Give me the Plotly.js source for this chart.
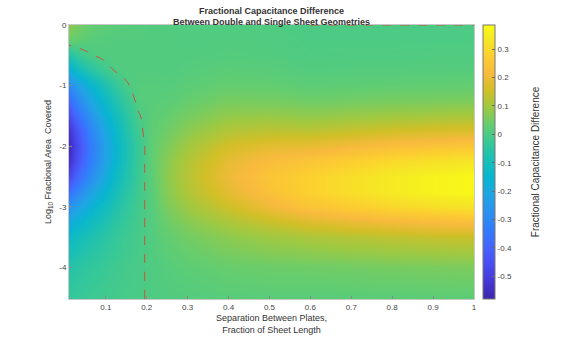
<!DOCTYPE html>
<html>
<head>
<meta charset="utf-8">
<script src="https://cdn.plot.ly/plotly-3.0.1.min.js"></script>
<style>
  html, body { margin: 0; padding: 0; background: #fff; }
  #chart { width: 562px; height: 340px; }
</style>
</head>
<body>
<div id="chart"></div>
<script>
// Grid: separation (fraction of sheet length) and log10 area covered
const separation = [0.01, 0.03, 0.06, 0.09, 0.12, 0.15, 0.18, 0.21, 0.25, 0.3, 0.4, 0.5, 0.6, 0.7, 0.8, 0.9, 1.0];
const logArea = [0, -0.25, -0.5, -0.75, -1, -1.25, -1.5, -1.75, -2, -2.25, -2.5, -2.75, -3, -3.25, -3.5, -4, -4.52];

// Fractional capacitance difference, one row per logArea value (top to bottom)
const capDiff = [
    [0.08, 0.055, 0.035, 0.025, 0.018, 0.014, 0.012, 0.01, 0.008, 0.006, 0.006, 0.004, 0.0, 0.0, 0.0, 0.0, 0.0],
    [0.035, 0.03, 0.016, 0.012, 0.01, 0.01, 0.01, 0.008, 0.008, 0.006, 0.008, 0.006, 0.002, 0.002, 0.002, 0.002, 0.002],
    [-0.07, -0.032, -0.003, 0.008, 0.01, 0.01, 0.01, 0.008, 0.008, 0.008, 0.012, 0.009, 0.004, 0.005, 0.005, 0.006, 0.006],
    [-0.17, -0.117, -0.063, -0.026, 0.0, 0.01, 0.01, 0.01, 0.008, 0.013, 0.02, 0.017, 0.01, 0.011, 0.012, 0.013, 0.014],
    [-0.3, -0.237, -0.162, -0.098, -0.045, -0.005, 0.015, 0.015, 0.013, 0.021, 0.034, 0.031, 0.023, 0.026, 0.028, 0.03, 0.031],
    [-0.38, -0.308, -0.22, -0.144, -0.082, -0.032, 0.012, 0.018, 0.02, 0.034, 0.054, 0.053, 0.045, 0.05, 0.054, 0.057, 0.06],
    [-0.46, -0.377, -0.278, -0.191, -0.117, -0.055, -0.004, 0.02, 0.032, 0.053, 0.084, 0.088, 0.081, 0.09, 0.098, 0.104, 0.108],
    [-0.53, -0.437, -0.326, -0.228, -0.143, -0.072, -0.012, 0.022, 0.045, 0.075, 0.12, 0.131, 0.13, 0.144, 0.158, 0.167, 0.173],
    [-0.56, -0.465, -0.35, -0.252, -0.16, -0.087, -0.025, 0.025, 0.06, 0.1, 0.16, 0.183, 0.191, 0.211, 0.231, 0.244, 0.254],
    [-0.54, -0.448, -0.338, -0.243, -0.154, -0.084, -0.024, 0.024, 0.071, 0.119, 0.19, 0.226, 0.249, 0.275, 0.301, 0.318, 0.331],
    [-0.47, -0.39, -0.294, -0.212, -0.134, -0.073, -0.02, 0.02, 0.075, 0.125, 0.2, 0.248, 0.284, 0.314, 0.343, 0.363, 0.377],
    [-0.37, -0.307, -0.231, -0.167, -0.105, -0.057, -0.016, 0.016, 0.07, 0.116, 0.186, 0.239, 0.284, 0.314, 0.343, 0.363, 0.377],
    [-0.27, -0.224, -0.169, -0.122, -0.077, -0.042, -0.012, 0.012, 0.057, 0.095, 0.152, 0.2, 0.244, 0.269, 0.294, 0.311, 0.323],
    [-0.19, -0.158, -0.119, -0.086, -0.054, -0.029, -0.009, 0.009, 0.041, 0.069, 0.11, 0.144, 0.174, 0.192, 0.21, 0.222, 0.231],
    [-0.13, -0.108, -0.081, -0.059, -0.037, -0.02, -0.007, 0.007, 0.029, 0.048, 0.076, 0.095, 0.11, 0.122, 0.133, 0.141, 0.146],
    [-0.065, -0.054, -0.041, -0.029, -0.019, -0.01, -0.004, 0.004, 0.014, 0.023, 0.036, 0.041, 0.044, 0.048, 0.053, 0.056, 0.058],
    [-0.035, -0.029, -0.022, -0.016, -0.01, -0.005, -0.003, 0.003, 0.006, 0.01, 0.016, 0.017, 0.016, 0.018, 0.019, 0.02, 0.021]
];

// Tick labels
const xTickVals = [0.1, 0.2, 0.3, 0.4, 0.5, 0.6, 0.7, 0.8, 0.9, 1];
const xTickText = ['0.1', '0.2', '0.3', '0.4', '0.5', '0.6', '0.7', '0.8', '0.9', '1'];
const yTickVals = [0, -1, -2, -3, -4];
const yTickText = ['0', '-1', '-2', '-3', '-4'];
const cbTickVals = [0.3, 0.2, 0.1, 0, -0.1, -0.2, -0.3, -0.4, -0.5];
const cbTickText = ['0.3', '0.2', '0.1', '0', '-0.1', '-0.2', '-0.3', '-0.4', '-0.5'];

// MATLAB parula, sampled
const parula = [
    [0.000, 'rgb(62,38,168)'],
    [0.063, 'rgb(69,55,213)'],
    [0.127, 'rgb(72,77,240)'],
    [0.190, 'rgb(69,99,253)'],
    [0.254, 'rgb(50,124,252)'],
    [0.317, 'rgb(43,145,239)'],
    [0.381, 'rgb(32,165,227)'],
    [0.444, 'rgb(8,181,208)'],
    [0.508, 'rgb(25,191,182)'],
    [0.571, 'rgb(55,200,151)'],
    [0.635, 'rgb(100,205,111)'],
    [0.698, 'rgb(157,201,67)'],
    [0.762, 'rgb(209,191,39)'],
    [0.825, 'rgb(248,186,61)'],
    [0.889, 'rgb(252,207,48)'],
    [0.952, 'rgb(245,233,36)'],
    [1.000, 'rgb(249,251,21)']
];

// heatmap wants y ascending
const yAsc = logArea.slice().reverse();
const zAsc = capDiff.slice().reverse();

const fontFamily = 'Liberation Sans, Arial, sans-serif';

const heat = {
    type: 'heatmap',
    x: separation,
    y: yAsc,
    z: zAsc,
    zsmooth: 'best',
    colorscale: parula,
    zmin: -0.58,
    zmax: 0.385,
    hoverinfo: 'skip',
    colorbar: {
        x: 1.022,
        xanchor: 'left',
        xpad: 0,
        y: 0.5,
        yanchor: 'middle',
        ypad: 0,
        len: 1.0,
        lenmode: 'fraction',
        thickness: 12,
        outlinecolor: '#777',
        outlinewidth: 1,
        tickmode: 'array',
        tickvals: cbTickVals,
        ticktext: cbTickText,
        ticks: 'inside',
        ticklen: 3,
        tickcolor: '#666',
        tickfont: { family: fontFamily, size: 8, color: '#444' }
    }
};

// zero contour, dashed
const zeroLine = {
    type: 'contour',
    x: separation,
    y: yAsc,
    z: zAsc,
    showscale: false,
    hoverinfo: 'skip',
    contours: { start: 0, end: 0, size: 1, coloring: 'none' },
    line: { color: '#c8553d', dash: 'dash', width: 1, smoothing: 1.3 }
};

const layout = {
    width: 562,
    height: 340,
    margin: { l: 69, r: 88, t: 25, b: 41 },
    paper_bgcolor: '#fff',
    plot_bgcolor: '#fff',
    font: { family: fontFamily, size: 8, color: '#444' },
    title: {
        text: '<b>Fractional Capacitance Difference<br>Between Double and Single Sheet Geometries</b>',
        font: { family: fontFamily, size: 9, color: '#333' },
        x: 0.5,
        xref: 'paper',
        xanchor: 'center',
        y: 0.96,
        yref: 'container',
        yanchor: 'top'
    },
    xaxis: {
        range: [0.01, 1],
        tickmode: 'array',
        tickvals: xTickVals,
        ticktext: xTickText,
        ticks: 'inside',
        ticklen: 3,
        tickcolor: '#888',
        showgrid: false,
        zeroline: false,
        showline: true,
        mirror: true,
        linecolor: '#c8c8c8',
        linewidth: 1,
        tickfont: { size: 8, color: '#444' },
        title: {
            text: 'Separation Between Plates,<br>Fraction of Sheet Length',
            font: { size: 9, color: '#333' },
            standoff: 4
        }
    },
    yaxis: {
        range: [-4.52, 0],
        tickmode: 'array',
        tickvals: yTickVals,
        ticktext: yTickText,
        ticks: 'inside',
        ticklen: 3,
        tickcolor: '#888',
        showgrid: false,
        zeroline: false,
        showline: true,
        mirror: true,
        linecolor: '#c8c8c8',
        linewidth: 1,
        tickfont: { size: 8, color: '#444' },
        title: {
            text: 'Log<sub>10</sub> Fractional Area  Covered',
            font: { size: 9, color: '#333' },
            standoff: 6
        }
    },
    annotations: [{
        text: 'Fractional Capacitance Difference',
        xref: 'paper',
        yref: 'paper',
        x: 1.151,
        y: 0.5,
        xanchor: 'center',
        yanchor: 'middle',
        textangle: -90,
        showarrow: false,
        font: { family: fontFamily, size: 10, color: '#333' }
    }],
    showlegend: false
};

Plotly.newPlot('chart', [heat, zeroLine], layout, { displayModeBar: false, staticPlot: true });
</script>
</body>
</html>
